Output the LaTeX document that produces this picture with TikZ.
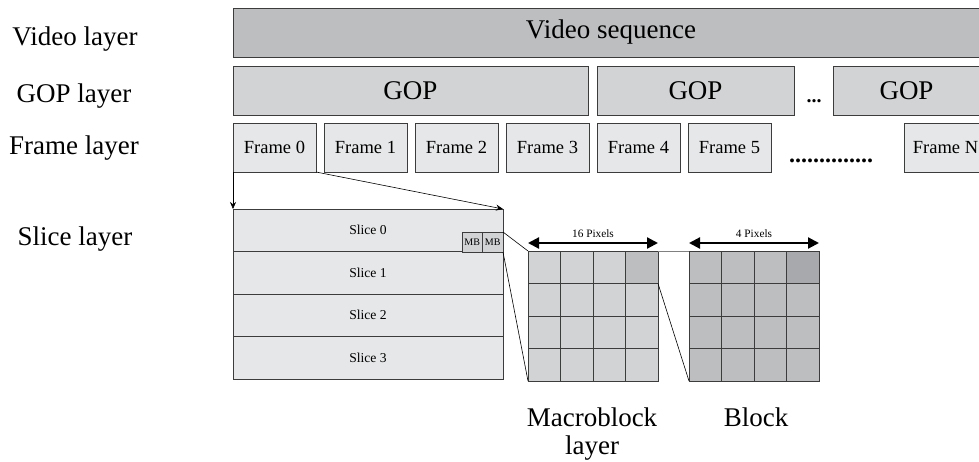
\documentclass[tikz,border=0pt]{standalone}
\usepackage{fontspec}
\setmainfont{Liberation Serif}
\usepackage{tikz}
\usetikzlibrary{arrows.meta, calc}

\definecolor{edgegray}{HTML}{3C3C3C}
\definecolor{vidfill}{HTML}{BCBEC0}
\definecolor{gopfill}{HTML}{D1D3D4}
\definecolor{framefill}{HTML}{E6E7E8}
\definecolor{mbfill}{HTML}{D1D3D4}
\definecolor{mbdark}{HTML}{BCBEC0}
\definecolor{blkfill}{HTML}{BCBEC0}
\definecolor{blkdark}{HTML}{A7A9AC}

\begin{document}
\begin{tikzpicture}[x=1pt, y=-1pt,
		box/.style = {draw=edgegray, line width=1pt, anchor=north west, inner sep=0pt, outer sep=0pt},
		bigtext/.style = {font=\fontsize{27}{28}\selectfont},
		framebox/.style = {box, fill=framefill, minimum width=83, minimum height=49, font=\fontsize{18.5}{20}\selectfont},
		slicebox/.style = {box, fill=framefill, minimum width=270, minimum height=42.5, font=\fontsize{13.6}{15}\selectfont},
		cell/.style = {box, minimum width=32.5, minimum height=32.5},
		link/.style = {black, line width=0.6pt},
		dimarrow/.style = {black, line width=2.2pt, {Triangle[length=11pt,width=11pt]}-{Triangle[length=11pt,width=11pt]}}]
	\useasboundingbox (0,0) rectangle (979,461);

	% layer names
	\node[bigtext, anchor=base] (lvideo) at (75,45.5) {Video layer};
	\node[bigtext, anchor=base] (lgop) at (74,102) {GOP layer};
	\node[bigtext, anchor=base] (lframe) at (74,154) {Frame layer};
	\node[bigtext, anchor=base] (lslice) at (75,245) {Slice layer};

	% video and GOP
	\node[box, bigtext, fill=vidfill, minimum width=756, minimum height=49] (video) at (233,8) {Video sequence};
	\node[box, bigtext, fill=gopfill, minimum width=355, minimum height=49] (gop1) at (233,66) {GOP};
	\node[box, bigtext, fill=gopfill, minimum width=197, minimum height=49] (gop2) at (597,66) {GOP};
	\node[box, bigtext, fill=gopfill, minimum width=147, minimum height=49] (gop3) at (833,66) {GOP};
	\node[font=\fontsize{20}{20}\selectfont\bfseries, anchor=base] (gopdots) at (814,102) {...};

	% frames
	\foreach \i/\x in {0/233,1/324,2/415,3/506,4/597,5/688}
		\node[framebox] (f\i) at (\x,123) {Frame \i};
	\node[framebox] (fN) at (904,123) {Frame N};
	\node[font=\fontsize{24}{24}\selectfont\bfseries, anchor=base] (framedots) at (831,162) {..............};

	% slices
	\foreach \i in {0,...,3}
		\node[slicebox] (s\i) at (233,{209+42.5*\i}) {Slice \i};
	\node[box, fill=mbfill, minimum width=20.5, minimum height=20, font=\fontsize{10}{10}\selectfont] (mbA) at (462,232) {MB};
	\node[box, fill=mbfill, minimum width=20.5, minimum height=20, font=\fontsize{10}{10}\selectfont] (mbB) at (482.5,232) {MB};

	% macroblock and block grids
	\foreach \r in {0,...,3}
		\foreach \c in {0,...,3} {
			\node[cell, fill=mbfill] (m\r\c) at ({528+32.5*\c},{251+32.5*\r}) {};
			\node[cell, fill=blkfill] (b\r\c) at ({689+32.5*\c},{251+32.5*\r}) {};
		}
	\node[cell, fill=mbdark] (m03) at (625.5,251) {};
	\node[cell, fill=blkdark] (b03) at (786.5,251) {};

	\draw[dimarrow] ([yshift=8pt]m00.north west) -- ([yshift=8pt]m03.north east)
		node[midway, above=1pt, font=\fontsize{11.3}{12}\selectfont] {16 Pixels};
	\draw[dimarrow] ([yshift=8pt]b00.north west) -- ([yshift=8pt]b03.north east)
		node[midway, above=1pt, font=\fontsize{11.3}{12}\selectfont] {4 Pixels};

	\node[bigtext, anchor=base, align=center] (mblabel) at (592,454) {Macroblock\\layer};
	\node[bigtext, anchor=base] (blabel) at (756,426) {Block};

	% connectors
	\draw[link, -{Stealth[length=7pt,width=6pt]}] (f0.south west) -- (s0.north west);
	\draw[link, -{Stealth[length=7pt,width=6pt]}] (f0.south east) -- (s0.north east);
	\draw[link] (mbB.north east) -- (m00.north west);
	\draw[link] (mbB.south east) -- (m30.south west);
	\draw[link, draw=gray] (m03.north east) -- (b00.north west);
	\draw[link] (m03.south east) -- (b30.south west);
\end{tikzpicture}
\end{document}
